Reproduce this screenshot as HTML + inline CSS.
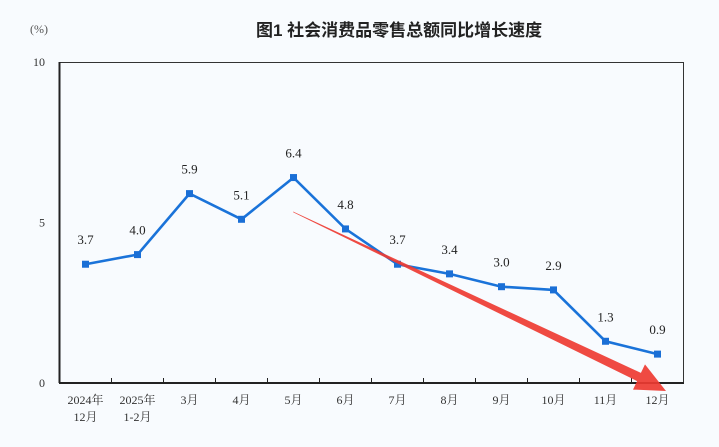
<!DOCTYPE html>
<html><head><meta charset="utf-8"><style>
body{margin:0;background:#f8fbfe;}
svg{display:block;font-family:"Liberation Serif","Noto Serif CJK SC",serif;}
</style></head><body>
<svg id="c" width="719" height="447">
<text x="256" y="36" font-size="17" font-weight="bold" font-family="Liberation Sans, Noto Sans CJK SC, sans-serif" fill="#222">图1  社会消费品零售总额同比增长速度</text>
<text x="30" y="33" font-size="12" fill="#555">(%)</text>
<rect x="59.5" y="62.5" width="624" height="320.5" fill="none" stroke="#333" stroke-width="1"/>
<line x1="59" y1="383" x2="684" y2="383" stroke="#222" stroke-width="2"/>
<line x1="59.5" y1="62" x2="59.5" y2="383" stroke="#222" stroke-width="2"/>
<g id="g"></g>
</svg>
<script>
const categories=[["2024年","12月"],["2025年","1-2月"],["3月"],["4月"],["5月"],["6月"],["7月"],["8月"],["9月"],["10月"],["11月"],["12月"]];
const values=[3.7,4.0,5.9,5.1,6.4,4.8,3.7,3.4,3.0,2.9,1.3,0.9];
const yTicks=[0,5,10];
const X0=59.5,W=624,Y0=383,H=321;
const xs=i=>X0+W/categories.length*(i+0.5);
const ys=v=>Y0-v/10*H;
const g=document.getElementById('g');
const NS='http://www.w3.org/2000/svg';
function mk(t,a){const e=document.createElementNS(NS,t);for(const k in a)e.setAttribute(k,a[k]);g.appendChild(e);return e;}
yTicks.forEach(v=>{const t=mk('text',{x:45,y:ys(v)+4,'font-size':12,fill:'#333','text-anchor':'end'});t.textContent=v;

});
for(let i=1;i<categories.length;i++){const x=X0+W/categories.length*i;const l=mk('line',{x1:x,y1:Y0,x2:x,y2:Y0-5,stroke:'#222'});

}
categories.forEach((c,i)=>{c.forEach((s,j)=>{const t=mk('text',{x:xs(i),y:404+j*17,'font-size':12,fill:'#333','text-anchor':'middle'});t.textContent=s;

});});
const line=mk('polyline',{points:values.map((v,i)=>xs(i)+','+ys(v)).join(' '),fill:'none',stroke:'#1a73d9','stroke-width':2.6});


values.forEach((v,i)=>{const r=mk('rect',{x:xs(i)-3.5,y:ys(v)-3.5,width:7,height:7,fill:'#1a6fd6'});


const t=mk('text',{x:xs(i),y:ys(v)-20,'font-size':13,fill:'#222','text-anchor':'middle'});t.textContent=v.toFixed(1);

});
const arrow=mk('polygon',{points:'293,211.5 293.4,212.4 637.1,381.1 633,389.6 666,391 645,364.4 640.9,372.9',fill:'#ee3b32',opacity:0.92});


</script>
</body></html>
